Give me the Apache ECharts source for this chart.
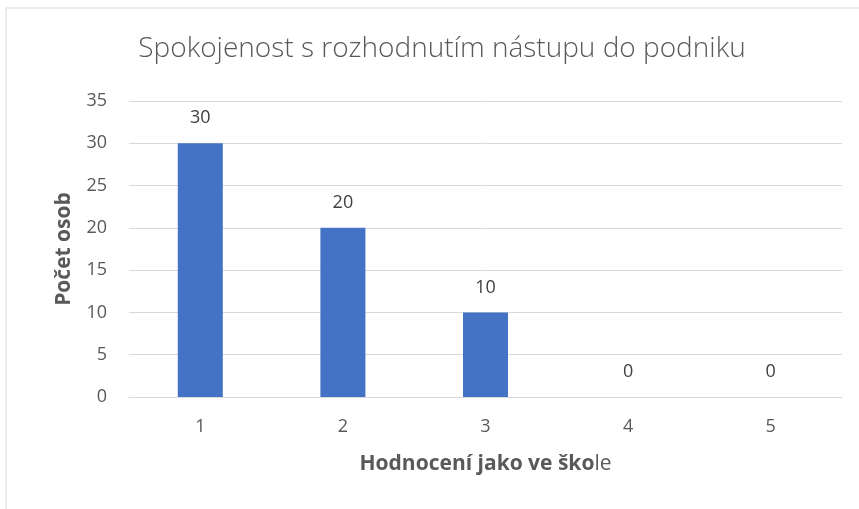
<!DOCTYPE html>
<html>
<head>
<meta charset="utf-8">
<script src="https://cdn.jsdelivr.net/npm/echarts@6/dist/echarts.min.js"></script>
<style>
  html, body { margin: 0; padding: 0; background: #fff; }
  #chart { width: 859px; height: 509px; }
</style>
</head>
<body>
<div id="chart"></div>
<script>
// Data
const categories = ['1', '2', '3', '4', '5'];
const values = [30, 20, 10, 0, 0];
const yTicks = [0, 5, 10, 15, 20, 25, 30, 35];

const textColor = '#595959';
const fontFamily = '"Open Sans", "Noto Sans", sans-serif';

const chart = echarts.init(document.getElementById('chart'));

chart.setOption({
    backgroundColor: '#fff',
    animation: false,
    graphic: [{
        type: 'rect',
        shape: { x: 6, y: 8, width: 900, height: 600 },
        style: { fill: 'none', stroke: '#d9d9d9', lineWidth: 1 },
        silent: true
    }],
    title: {
        text: 'Spokojenost s rozhodnutím nástupu do podniku',
        left: 437,
        textAlign: 'center',
        top: 30,
        textStyle: {
            fontFamily: fontFamily,
            fontWeight: 300,
            fontSize: 28,
            color: textColor
        }
    },
    grid: {
        left: 129,
        right: 17,
        top: 101,
        bottom: 112
    },
    xAxis: {
        type: 'category',
        data: categories,
        name: '{b|Hodnocení jako ve ško}{n|le}',
        nameLocation: 'middle',
        nameGap: 57,
        nameTextStyle: {
            rich: {
                b: { fontFamily: fontFamily, fontWeight: 'bold', fontSize: 21, color: textColor },
                n: { fontFamily: fontFamily, fontWeight: 'normal', fontSize: 21, color: textColor }
            }
        },
        axisLine: { lineStyle: { color: '#d9d9d9', width: 1 } },
        axisTick: { show: false },
        axisLabel: {
            margin: 21,
            fontFamily: fontFamily,
            fontSize: 18,
            color: textColor
        }
    },
    yAxis: {
        type: 'value',
        min: yTicks[0],
        max: yTicks[yTicks.length - 1],
        interval: 5,
        name: 'Počet osob',
        nameLocation: 'middle',
        nameGap: 54,
        nameTextStyle: {
            fontFamily: fontFamily,
            fontWeight: 'bold',
            fontSize: 21,
            color: textColor
        },
        axisLine: { show: false },
        axisTick: { show: false },
        splitLine: { lineStyle: { color: '#d9d9d9', width: 1 } },
        axisLabel: {
            margin: 22,
            fontFamily: fontFamily,
            fontSize: 18,
            color: textColor
        }
    },
    series: [{
        type: 'bar',
        data: values,
        barWidth: 45,
        itemStyle: { color: '#4472C4' },
        label: {
            show: true,
            position: 'top',
            distance: 16,
            fontFamily: fontFamily,
            fontSize: 18,
            color: '#404040'
        }
    }]
});
</script>
</body>
</html>
